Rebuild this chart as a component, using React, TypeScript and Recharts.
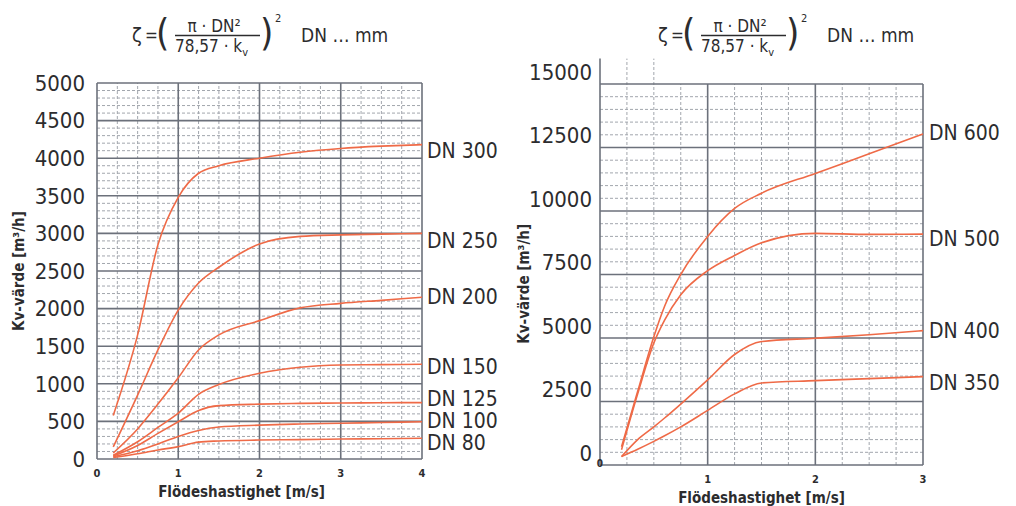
import { LineChart, Line, XAxis, YAxis, ReferenceLine, ReferenceDot } from 'recharts';

// left diagram: DN 80 - DN 300, speed 0..4 m/s, Kv 0..5000
const leftSpeeds = [0.2, 0.5, 0.75, 1, 1.25, 1.5, 2, 2.5, 3, 3.5, 4];
const dn300 = [580, 1650, 2850, 3480, 3800, 3900, 4000, 4080, 4130, 4160, 4180];
const dn250 = [160, 850, 1450, 1980, 2340, 2550, 2860, 2960, 2980, 2990, 3000];
const dn200 = [80, 400, 730, 1080, 1450, 1650, 1840, 2010, 2070, 2110, 2150];
const dn150 = [50, 230, 420, 610, 860, 990, 1140, 1220, 1250, 1255, 1260];
const dn125 = [40, 180, 340, 495, 645, 710, 730, 740, 745, 748, 750];
const dn100 = [30, 110, 200, 300, 380, 425, 450, 465, 475, 485, 495];
const dn80 = [20, 70, 120, 165, 225, 240, 252, 258, 265, 270, 275];
const leftNames = ['DN 300', 'DN 250', 'DN 200', 'DN 150', 'DN 125', 'DN 100', 'DN 80'];
const leftLabelLevels = [4100, 2905, 2160, 1235, 810, 517, 225];
const leftXTicks = [0, 1, 2, 3, 4];
const leftYTicks = [0, 500, 1000, 1500, 2000, 2500, 3000, 3500, 4000, 4500, 5000];

// right diagram: DN 350 - DN 600, speed 0..3 m/s, Kv 0..15000
const rightSpeeds = [0.2, 0.35, 0.5, 0.6, 0.75, 1, 1.25, 1.5, 2, 2.5, 3];
const dn600 = [720, 2900, 5050, 6250, 7500, 9000, 10100, 10700, 11480, 12250, 13030];
const dn500 = [600, 2800, 4800, 5700, 6700, 7650, 8250, 8750, 9120, 9080, 9090];
const dn400 = [330, 1000, 1500, 1850, 2400, 3350, 4350, 4860, 4990, 5130, 5290];
const dn350 = [330, 620, 930, 1150, 1500, 2150, 2800, 3230, 3320, 3400, 3480];
const rightNames = ['DN 600', 'DN 500', 'DN 400', 'DN 350'];
const rightLabelLevels = [13070, 8900, 5310, 3230];
const rightXTicks = [0, 1, 2, 3];
const rightYTicks = [0, 2500, 5000, 7500, 10000, 12500, 15000];

const CURVE = '#ef6a47';
const MAJOR = '#6c717b';
const MINOR = '#a2a6ad';
const INK = '#2c2c2e';
const CONDENSED = "'DejaVu Sans Condensed', 'Liberation Sans Narrow', 'DejaVu Sans', sans-serif";

function buildRows(xs: number[], names: string[], series: number[][]) {
  return xs.map((v, i) => {
    const row: Record<string, number> = { v };
    names.forEach((n, k) => { row[n] = series[k][i]; });
    return row;
  });
}

const leftData = buildRows(leftSpeeds, leftNames, [dn300, dn250, dn200, dn150, dn125, dn100, dn80]);
const rightData = buildRows(rightSpeeds, rightNames, [dn600, dn500, dn400, dn350]);

function steps(from: number, to: number, step: number) {
  const out: number[] = [];
  for (let v = from; v <= to + 1e-9; v += step) out.push(Math.round(v * 1000) / 1000);
  return out;
}

const tickFont = { fontSize: 22, fontFamily: CONDENSED, fill: INK };
const dnFont = { fontSize: 21, fontFamily: CONDENSED, fill: INK };
const xTickFont = { fontSize: 11, fontFamily: CONDENSED, fontWeight: 700, fill: INK };
const titleFont = { fontSize: 15, fontFamily: CONDENSED, fontWeight: 700, fill: INK };

function Formula({ dx }: { dx: number }) {
  return (
    <g transform={`translate(${dx},0)`} fill={INK} fontFamily={CONDENSED}>
      <text x={132} y={42} fontSize={20}>ζ</text>
      <text x={145} y={41} fontSize={17}>=</text>
      <text x={156} y={45} fontSize={38} fontWeight={300}>(</text>
      <text x={214} y={32} fontSize={17} textAnchor="middle">π · DN²</text>
      <line x1={175} x2={260} y1={35.5} y2={35.5} stroke={INK} strokeWidth={1.3} />
      <text x={175} y={52} fontSize={17}>78,57 · k<tspan fontSize={11} dy={4}>v</tspan></text>
      <text x={260} y={45} fontSize={38} fontWeight={300}>)</text>
      <text x={275} y={22} fontSize={11}>2</text>
      <text x={301} y={42} fontSize={19}>DN … mm</text>
    </g>
  );
}

function RightXTick(props: any) {
  const { x, y, payload } = props;
  if (payload.value === 0) {
    return (
      <text x={x} y={y - 6} textAnchor="middle" {...xTickFont} fontSize={10}>0</text>
    );
  }
  return (
    <text x={x} y={y + 10} textAnchor="middle" {...xTickFont}>{payload.value}</text>
  );
}

export default function App() {
  const leftMinorY = steps(0, 5000, 100).filter((v) => v % 500 !== 0);
  const leftMinorX = steps(0, 4, 0.25).filter((v) => v % 1 !== 0);
  const rightMinorY = steps(0, 15000, 500).filter((v) => v % 2500 !== 0);
  const rightMinorX = steps(0, 3, 0.25).filter((v) => v % 1 !== 0);

  return (
    <div style={{ position: 'absolute', left: 0, top: 0, width: 1016, height: 506, background: '#fff' }}>
      <svg width={1016} height={60} style={{ position: 'absolute', left: 0, top: 0 }}>
        <Formula dx={0} />
        <Formula dx={526} />
      </svg>

      <div style={{ position: 'absolute', left: 0, top: 0 }}>
        <LineChart width={520} height={506} data={leftData}
          margin={{ top: 83, right: 98, bottom: 7, left: 0 }}>
          {leftMinorY.map((v) => (
            <ReferenceLine key={`ly${v}`} y={v} stroke={MINOR} strokeDasharray="3 2" strokeWidth={1} />
          ))}
          {leftMinorX.map((v) => (
            <ReferenceLine key={`lx${v}`} x={v} stroke={MINOR} strokeDasharray="3 2" strokeWidth={1} />
          ))}
          {leftYTicks.map((v) => (
            <ReferenceLine key={`LY${v}`} y={v} stroke={MAJOR} strokeWidth={1.6} />
          ))}
          {leftXTicks.map((v) => (
            <ReferenceLine key={`LX${v}`} x={v} stroke={MAJOR} strokeWidth={1.6} />
          ))}
          <XAxis dataKey="v" type="number" domain={[0, 4]} ticks={leftXTicks}
            axisLine={false} tickLine={false} tick={xTickFont} tickMargin={4} height={40}
            label={{ value: 'Flödeshastighet [m/s]', position: 'insideBottom', offset: 2, dx: -18, style: titleFont }} />
          <YAxis type="number" domain={[0, 5000]} ticks={leftYTicks}
            axisLine={false} tickLine={false} tick={tickFont} tickMargin={6} width={97}
            label={{ value: 'Kv-värde [m³/h]', angle: -90, position: 'insideLeft', offset: 19, style: { ...titleFont, textAnchor: 'middle' } }} />
          {leftNames.map((n) => (
            <Line key={n} dataKey={n} type="monotone" stroke={CURVE} strokeWidth={1.6}
              dot={false} isAnimationActive={false} />
          ))}
          {leftNames.map((n, i) => (
            <ReferenceDot key={`t${n}`} x={4} y={leftLabelLevels[i]} r={0} ifOverflow="visible"
              label={{ value: n, position: 'right', offset: 5, style: dnFont }} />
          ))}
        </LineChart>
      </div>

      <div style={{ position: 'absolute', left: 500, top: 0 }}>
        <LineChart width={516} height={506} data={rightData}
          margin={{ top: 58.6, right: 93, bottom: 1, left: 0 }}>
          {rightMinorY.map((v) => (
            <ReferenceLine key={`ry${v}`} y={v} stroke={MINOR} strokeDasharray="3 2" strokeWidth={1} />
          ))}
          {rightMinorX.map((v) => (
            v <= 0.5
              ? <ReferenceLine key={`rx${v}`} x={v} stroke={MINOR} strokeDasharray="3 2" strokeWidth={1} />
              : <ReferenceLine key={`rx${v}`} segment={[{ x: v, y: 0 }, { x: v, y: 15000 }]}
                  stroke={MINOR} strokeDasharray="3 2" strokeWidth={1} />
          ))}
          {rightYTicks.map((v) => (
            <ReferenceLine key={`RY${v}`} y={v} stroke={MAJOR} strokeWidth={1.6} />
          ))}
          {rightXTicks.map((v) => (
            v === 0
              ? <ReferenceLine key={`RX${v}`} x={v} stroke={MAJOR} strokeWidth={1.6} />
              : <ReferenceLine key={`RX${v}`} segment={[{ x: v, y: 0 }, { x: v, y: 15000 }]}
                  stroke={MAJOR} strokeWidth={1.6} />
          ))}
          <XAxis dataKey="v" type="number" domain={[0, 3]} ticks={rightXTicks}
            axisLine={false} tickLine={false} tick={<RightXTick />} height={40}
            label={{ value: 'Flödeshastighet [m/s]', position: 'insideBottom', offset: 2, style: titleFont }} />
          <YAxis type="number" domain={[0, 16000]} ticks={rightYTicks}
            axisLine={false} tickLine={false} tick={tickFont} tickMargin={2} width={100} dy={-12}
            label={{ value: 'Kv-värde [m³/h]', angle: -90, position: 'insideLeft', offset: 24, dy: 22, style: { ...titleFont, textAnchor: 'middle' } }} />
          {rightNames.map((n) => (
            <Line key={n} dataKey={n} type="monotone" stroke={CURVE} strokeWidth={1.6}
              dot={false} isAnimationActive={false} />
          ))}
          {rightNames.map((n, i) => (
            <ReferenceDot key={`t${n}`} x={3} y={rightLabelLevels[i]} r={0} ifOverflow="visible"
              label={{ value: n, position: 'right', offset: 6, style: dnFont }} />
          ))}
        </LineChart>
      </div>
    </div>
  );
}
